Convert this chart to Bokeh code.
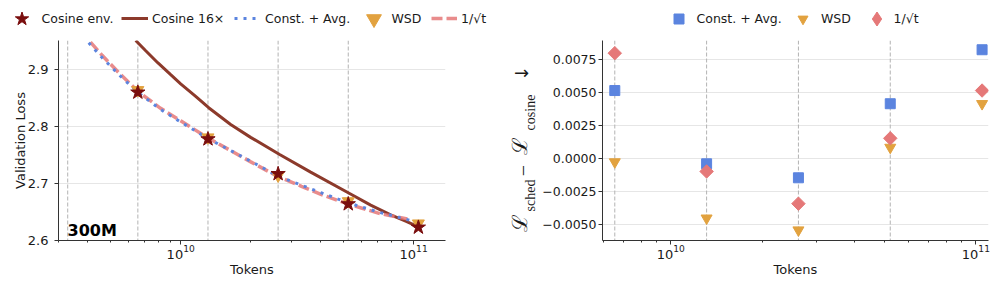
import math
from bokeh.plotting import figure
from bokeh.models import FixedTicker, LogTickFormatter, Span, Legend, LegendItem, Label, Range1d
from bokeh.layouts import row
from bokeh.embed import file_html
from bokeh.resources import INLINE
from bokeh.core.properties import value

# ---------------- data ----------------
ckpt_tokens = [6.55e9, 1.31e10, 2.62e10, 5.24e10, 1.048e11]
vline_tokens = [3.275e9, 6.55e9, 1.31e10, 2.62e10, 5.24e10]

cosine_env_loss = [2.860, 2.778, 2.717, 2.664, 2.623]
wsd_loss = [2.864, 2.781, 2.714, 2.669, 2.630]

cos16_tokens = [6.41e9, 7.08e9, 7.97e9, 9.06e9, 1.0e10, 1.16e10, 1.319e10, 1.639e10, 1.997e10,
                2.66e10, 3.613e10, 5.31e10, 6.54e10, 7.97e10, 9.24e10, 1.048e11]
cos16_loss = [2.951, 2.933, 2.912, 2.891, 2.875, 2.853, 2.833, 2.8035, 2.781,
              2.751, 2.720, 2.6825, 2.662, 2.645, 2.634, 2.624]

avg_tokens = [4.03e9, 4.6e9, 5.5e9, 6.55e9, 8.2e9, 1.0e10, 1.31e10, 2.0e10, 2.62e10, 3.3e10, 4.0e10, 5.24e10, 7.2e10, 1.04e11]
avg_loss = [2.947, 2.921, 2.889, 2.860, 2.830, 2.808, 2.779, 2.739, 2.713, 2.697, 2.684, 2.666, 2.649, 2.632]

sqrt_tokens = [4.1e9, 4.6e9, 5.5e9, 6.55e9, 8.2e9, 1.0e10, 1.31e10, 2.0e10, 2.62e10, 3.3e10, 4.0e10, 5.24e10, 7.2e10, 9.4e10]
sqrt_loss = [2.948, 2.925, 2.892, 2.862, 2.832, 2.810, 2.780, 2.738, 2.712, 2.695, 2.681, 2.664, 2.647, 2.638]

diff_const_avg = [0.00517, -0.00038, -0.00144, 0.00417, 0.00826]
diff_wsd = [-0.00024, -0.0045, -0.0054, 0.00086, 0.00417]
diff_sqrt = [0.0080, -0.00096, -0.0034, 0.00155, 0.00517]

left_yticks = [2.6, 2.7, 2.8, 2.9]
right_yticks = [-0.005, -0.0025, 0.0, 0.0025, 0.005, 0.0075]
right_ytick_labels = ["\u22120.0050", "\u22120.0025", "0.0000", "0.0025", "0.0050", "0.0075"]
x_major = [1e10, 1e11]
x_minor = [m * 10.0 ** e for e in (9, 10, 11) for m in range(2, 10)]

# ---------------- styles ----------------
C_ENV = "#7a0e0e"
C_COS16 = "#8c3a2b"
C_AVG = "#5b84df"
C_WSD = "#e2a23f"
C_SQRT = "#e57878"
FONT = "DejaVu Sans"
TXT = "#1a1a1a"
H = 242      # plots row height
HL = 40      # legend strip height

STY_COS16 = dict(line_color=C_COS16, line_width=3)
STY_SQRT = dict(line_color=C_SQRT, line_width=3.5, line_dash="11 4", line_alpha=0.85)
STY_AVG = dict(line_color=C_AVG, line_width=3, line_dash="3 6")
STY_WSD1 = dict(marker="inverted_triangle", size=12, fill_color=C_WSD, line_color=C_WSD)
STY_ENV = dict(marker="star", size=15, fill_color=C_ENV, line_color=C_ENV)
STY_SQ = dict(marker="square", size=10, fill_color=C_AVG, line_color=C_AVG)
STY_WSD2 = dict(marker="inverted_triangle", size=11, fill_color=C_WSD, line_color=C_WSD)
STY_DIA = dict(marker="square", size=9.5, angle=math.pi / 4, fill_color=C_SQRT, line_color=C_SQRT)
STY_DIA_LEG = dict(marker="diamond", size=14, fill_color=C_SQRT, line_color=C_SQRT)


def bare(p):
    p.outline_line_color = None
    p.grid.visible = False
    p.background_fill_color = "white"
    p.border_fill_color = "white"


def style(p):
    p.outline_line_color = None
    p.background_fill_color = "white"
    p.border_fill_color = "white"
    p.xgrid.visible = False
    p.ygrid.grid_line_color = "#e6e6e6"
    p.ygrid.grid_line_width = 1
    for ax in (p.xaxis[0], p.yaxis[0]):
        ax.axis_line_color = "#333333"
        ax.major_tick_line_color = "#333333"
        ax.minor_tick_line_color = "#333333"
        ax.major_tick_out = 4
        ax.major_tick_in = 0
        ax.minor_tick_out = 2
        ax.minor_tick_in = 0
        ax.major_label_text_font = FONT
        ax.major_label_text_font_size = "13px"
        ax.major_label_text_color = TXT
        ax.axis_label_text_font = FONT
        ax.axis_label_text_font_size = "13px"
        ax.axis_label_text_font_style = "normal"
        ax.axis_label_text_color = TXT
    p.xaxis[0].ticker = FixedTicker(ticks=x_major, minor_ticks=x_minor)
    p.xaxis[0].formatter = LogTickFormatter()
    p.xaxis[0].major_label_standoff = 0
    p.xaxis[0].axis_label = "Tokens"
    p.xaxis[0].axis_label_standoff = 0
    for v in vline_tokens:
        p.add_layout(Span(location=v, dimension="height", line_color="#b3b3b3",
                          line_width=1, line_dash="4 2", level="underlay"))


def add_item(fig, label, renderer, x_left, gw, gh, standoff):
    # one legend per entry, vertically centred at page y = 18
    fig.add_layout(Legend(
        items=[LegendItem(label=label, renderers=[renderer])],
        orientation="horizontal", location=(x_left, 22 - gh / 2.0),
        border_line_color=None, background_fill_alpha=0, padding=0, margin=0,
        glyph_width=int(gw), glyph_height=int(gh), label_height=int(gh),
        label_standoff=int(standoff),
        label_text_font=FONT, label_text_font_size="12.5px", label_text_color=TXT))


# ---------------- legend strip (top) ----------------
# its renderers hold the same series but lie outside the strip's visible range
ls = figure(width=997, height=HL, x_range=Range1d(0, 997), y_range=Range1d(-HL, 0),
            x_axis_location=None, y_axis_location=None,
            min_border_left=0, min_border_right=0, min_border_top=0, min_border_bottom=0,
            output_backend="svg", toolbar_location=None)
bare(ls)
l_env = ls.scatter(ckpt_tokens, cosine_env_loss, **STY_ENV)
l_cos16 = ls.line(cos16_tokens, cos16_loss, **STY_COS16)
l_avg = ls.line(avg_tokens, avg_loss, **STY_AVG)
l_wsd = ls.scatter(ckpt_tokens, wsd_loss, **STY_WSD1)
l_sqrt = ls.line(sqrt_tokens, sqrt_loss, **STY_SQRT)
l2_sq = ls.scatter(ckpt_tokens, diff_const_avg, **STY_SQ)
l2_wsd = ls.scatter(ckpt_tokens, diff_wsd, **STY_WSD2)
l2_dia = ls.scatter(ckpt_tokens, diff_sqrt, **STY_DIA_LEG)

add_item(ls, "Cosine env.", l_env, 3.5, 35, 35, 3)
add_item(ls, "Cosine 16\u00d7", l_cos16, 121, 27, 30, 4)
add_item(ls, "Const. + Avg.", l_avg, 234, 26, 30, 5)
add_item(ls, "WSD", l_wsd, 354.5, 37, 37, 0)
add_item(ls, "1/\u221at", l_sqrt, 431, 26, 30, 4)
add_item(ls, "Const. + Avg.", l2_sq, 665.5, 25, 25, 6)
add_item(ls, "WSD", l2_wsd, 790, 25, 25, 6)
add_item(ls, "1/\u221at", l2_dia, 858.5, 35, 35, 0)

# ---------------- left plot ----------------
p1 = figure(width=500, height=H, x_axis_type="log",
            x_range=(2.99e9, 1.37e11), y_range=(2.6, 2.951),
            output_backend="svg", toolbar_location=None,
            min_border_left=58, min_border_right=55,
            min_border_top=0, min_border_bottom=42)
style(p1)
p1.yaxis[0].ticker = FixedTicker(ticks=left_yticks, minor_ticks=[])
p1.yaxis[0].axis_label = "Validation Loss"
p1.yaxis[0].major_label_standoff = 6
p1.yaxis[0].axis_label_standoff = -3

p1.line(cos16_tokens, cos16_loss, **STY_COS16)
p1.line(sqrt_tokens, sqrt_loss, **STY_SQRT)
p1.line(avg_tokens, avg_loss, **STY_AVG)
p1.scatter(ckpt_tokens, wsd_loss, **STY_WSD1)
p1.scatter(ckpt_tokens, cosine_env_loss, **STY_ENV)

p1.add_layout(Label(x=9, y=10, x_units="screen", y_units="screen", text="300M",
                    text_font=FONT, text_font_size="16px", text_font_style="bold",
                    text_color="black", text_baseline="alphabetic"))

# ---------------- label strip (y-axis label of right plot) ----------------
# frame spans page x 500..538, page y 40..240 (aligned with the plots' frames)
pl = figure(width=38, height=H, x_range=Range1d(500, 538), y_range=Range1d(-240, -40),
            x_axis_location=None, y_axis_location=None,
            min_border_left=0, min_border_right=0, min_border_top=0, min_border_bottom=42,
            output_backend="svg", toolbar_location=None)
bare(pl)
ylabel_pieces = [
    ("\u2112", 519, 222, "21px", "DejaVu Serif", math.pi / 2),
    ("sched", 530, 195, "14px", "Liberation Serif", math.pi / 2),
    ("\u2212", 522, 170, "20px", "Liberation Serif", math.pi / 2),
    ("\u2112", 519, 145, "21px", "DejaVu Serif", math.pi / 2),
    ("cosine", 530, 112, "14px", "Liberation Serif", math.pi / 2),
    ("\u2192", 521, 72, "18px", "DejaVu Sans", 0.0),
]
for txt, lx, ly, fs, fnt, ang in ylabel_pieces:
    pl.text(x=[lx], y=[-ly], text=[txt], angle=ang, text_align="center",
            text_baseline="middle", text_font=value(fnt), text_font_size=fs,
            text_color=TXT)

# ---------------- right plot ----------------
p2 = figure(width=459, height=H, x_axis_type="log",
            x_range=(5.97e9, 1.1e11), y_range=(-0.00619, 0.00896),
            output_backend="svg", toolbar_location=None,
            min_border_left=64, min_border_right=9,
            min_border_top=0, min_border_bottom=42)
style(p2)
p2.yaxis[0].ticker = FixedTicker(ticks=right_yticks, minor_ticks=[])
p2.yaxis[0].major_label_overrides = dict(zip(right_yticks, right_ytick_labels))
p2.yaxis[0].major_label_standoff = 2
p2.yaxis[0].major_label_text_font_size = "12.5px"

p2.scatter(ckpt_tokens, diff_const_avg, **STY_SQ)
p2.scatter(ckpt_tokens, diff_wsd, **STY_WSD2)
p2.scatter(ckpt_tokens, diff_sqrt, **STY_DIA)

open("out.html", "w").write(file_html([ls, row(p1, pl, p2)], INLINE))
